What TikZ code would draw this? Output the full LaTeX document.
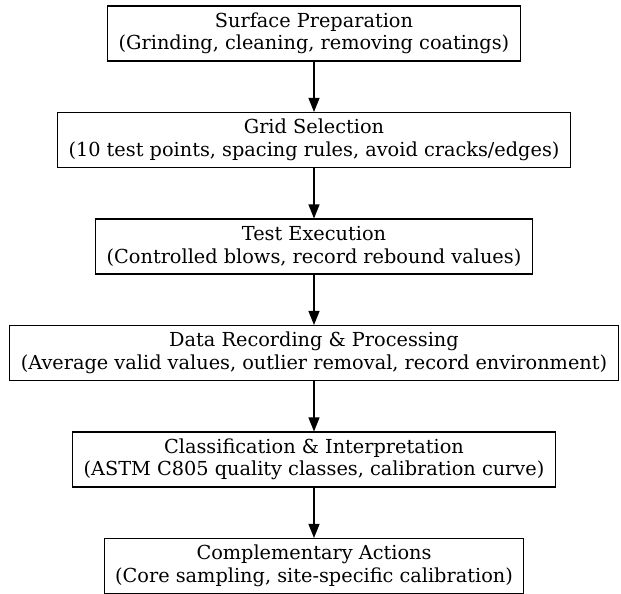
\documentclass[tikz,border=0pt]{standalone}
\usepackage{fontspec}
\setmainfont{DejaVu Serif}
\usetikzlibrary{arrows.meta}

\begin{document}
\begin{tikzpicture}[x=1bp, y=-1bp,
		stage/.style={draw, line width=1.1bp, align=center, inner xsep=11bp, inner ysep=3bp, minimum height=55bp, font=\fontsize{19.3bp}{22.5bp}\selectfont},
		flow/.style={-{Triangle[length=14bp, width=11bp]}, line width=1.1bp}]
	% Boxes and arrows:
	\useasboundingbox (0, 0) rectangle (621, 594);
	\node[stage](N1) at (314, 33.5){Surface Preparation\\(Grinding, cleaning, removing coatings)};
	\node[stage](N2) at (314, 140){Grid Selection\\(10 test points, spacing rules, avoid cracks/edges)};
	\node[stage](N3) at (314, 246.5){Test Execution\\(Controlled blows, record rebound values)};
	\node[stage](N4) at (314, 353){Data Recording \& Processing\\(Average valid values, outlier removal, record environment)};
	\node[stage](N5) at (314, 459.5){Classification \& Interpretation\\(ASTM C805 quality classes, calibration curve)};
	\node[stage](N6) at (314, 566){Complementary Actions\\(Core sampling, site-specific calibration)};
	\draw[flow] (N1) -- (N2);
	\draw[flow] (N2) -- (N3);
	\draw[flow] (N3) -- (N4);
	\draw[flow] (N4) -- (N5);
	\draw[flow] (N5) -- (N6);
\end{tikzpicture}
\end{document}
